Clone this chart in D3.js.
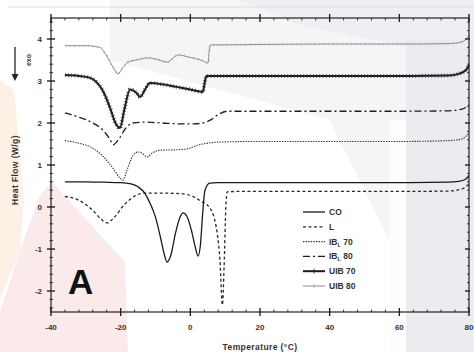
<!DOCTYPE html>
<html>
<head>
<meta charset="utf-8">
<script src="https://cdn.jsdelivr.net/npm/d3@7"></script>
<style>
  html, body { margin: 0; padding: 0; background: #fff; }
  svg { display: block; }
  text { font-family: "Liberation Sans", Arial, sans-serif; }
</style>
</head>
<body>
<svg id="chart" width="474" height="352"></svg>
<script>
// DSC heating thermograms, heat flow (W/g) vs temperature (°C)
const xTicks = [-40, -20, 0, 20, 40, 60, 80];
const yTicks = [-2, -1, 0, 1, 2, 3, 4];

const coT = [-36, -30, -25, -20, -17, -15, -13, -11.5, -10, -8.5, -7.5, -6.7, -5.6, -4.2, -3, -2.1, -1, 0.3, 1.4, 2.2, 2.9, 3.5, 4.2, 5.6, 8, 20, 40, 60, 74, 77, 79, 80];
const coV = [0.60, 0.60, 0.59, 0.58, 0.55, 0.48, 0.32, 0.08, -0.24, -0.75, -1.12, -1.31, -1.15, -0.6, -0.25, -0.14, -0.22, -0.55, -0.95, -1.17, -0.9, -0.2, 0.40, 0.57, 0.58, 0.58, 0.58, 0.58, 0.59, 0.61, 0.66, 0.75];

const lT = [-36, -32, -28, -25.5, -23.9, -22, -19, -16, -13, -8, -3, 1, 3, 5.6, 7.7, 8.5, 9.2, 9.7, 10.2, 10.6, 13, 20, 40, 60, 74, 78, 80];
const lV = [0.25, 0.16, -0.08, -0.30, -0.38, -0.26, 0.05, 0.26, 0.33, 0.33, 0.32, 0.24, 0.14, -0.02, -0.62, -1.26, -2.33, -1.4, 0.0, 0.36, 0.37, 0.37, 0.37, 0.37, 0.38, 0.43, 0.55];

const ibl70T = [-36, -32, -28, -25, -22, -20.3, -19.3, -18.3, -16.5, -15, -13.8, -12.4, -11, -9, -5, -1, 2, 5, 10, 20, 40, 60, 74, 78, 80];
const ibl70V = [1.58, 1.52, 1.40, 1.20, 0.90, 0.70, 0.64, 0.85, 1.22, 1.31, 1.28, 1.19, 1.28, 1.35, 1.36, 1.38, 1.47, 1.52, 1.55, 1.56, 1.56, 1.56, 1.58, 1.62, 1.76];

const ibl80T = [-36, -32, -28, -25, -23, -22.2, -20.5, -18.5, -16.5, -13, -8, -3, 1, 3.6, 6, 8, 10.5, 14, 20, 40, 60, 74, 78, 80];
const ibl80V = [2.24, 2.14, 2.00, 1.82, 1.60, 1.48, 1.62, 1.88, 2.00, 2.02, 2.00, 1.98, 1.98, 2.00, 2.08, 2.20, 2.28, 2.28, 2.28, 2.28, 2.28, 2.29, 2.33, 2.43];

const uib70T = [-36, -32, -29, -27, -25, -23, -21.5, -20.2, -19, -17.3, -15.5, -14.4, -13, -11.6, -8, -4, 0, 3.6, 4.1, 4.6, 8, 20, 40, 60, 74, 77, 79, 80];
const uib70V = [3.14, 3.12, 3.08, 2.98, 2.75, 2.35, 2.00, 1.88, 2.30, 2.80, 2.72, 2.62, 2.80, 2.95, 2.92, 2.86, 2.80, 2.74, 2.95, 3.12, 3.12, 3.12, 3.12, 3.12, 3.13, 3.17, 3.25, 3.38];

const uib80T = [-36, -30, -26, -24, -22, -20.8, -19.5, -17.9, -15.5, -12, -9, -6.7, -3.5, 0, 3, 5.1, 5.4, 5.8, 10, 20, 40, 60, 74, 78, 80];
const uib80V = [3.84, 3.84, 3.80, 3.60, 3.30, 3.17, 3.30, 3.45, 3.50, 3.55, 3.50, 3.45, 3.62, 3.56, 3.50, 3.43, 3.70, 3.86, 3.86, 3.87, 3.88, 3.88, 3.89, 3.93, 4.08];

const seriesNames = ["CO", "L", "IB_L 70", "IB_L 80", "UIB 70", "UIB 80"];

const svg = d3.select("#chart");

// faint coloured wash behind the plot
const bg = svg.append("g");
bg.append("polygon").attr("points", "110,0 474,0 474,352 389,352 389,240 330,120 110,60").attr("fill", "#f5f5f8");
bg.append("polygon").attr("points", "240,0 474,0 474,60 300,25").attr("fill", "#efeff3");
bg.append("rect").attr("x", 389).attr("y", 120).attr("width", 17).attr("height", 232).attr("fill", "#fdfdfe");
bg.append("rect").attr("x", 406).attr("y", 40).attr("width", 68).attr("height", 312).attr("fill", "#ebebf0");
bg.append("polygon").attr("points", "52,182 125,262 128,352 0,352 0,312 22,245 40,195").attr("fill", "#faeaea");
bg.append("polygon").attr("points", "0,80 14,90 24,200 20,250 0,300").attr("fill", "#fdf0e4");
svg.append("line").attr("x1", 8).attr("x2", 474).attr("y1", 7).attr("y2", 7)
  .attr("stroke", "#dedede").attr("stroke-width", 1);

const x = d3.scaleLinear().domain([-40, 80]).range([51, 469]);
const y = d3.scaleLinear().domain([-2.5, 4.5]).range([312, 18]);

const line = d3.line()
  .x(d => x(d[0])).y(d => y(d[1]))
  .curve(d3.curveMonotoneX);

const zip = (t, v) => t.map((d, i) => [d, v[i]]);

const plot = svg.append("g");

function drawSeries(t, v, style) {
  const p = plot.append("path")
    .datum(zip(t, v))
    .attr("fill", "none")
    .attr("stroke", style.color)
    .attr("stroke-width", style.width)
    .attr("stroke-linejoin", "round")
    .attr("d", line);
  if (style.dash) p.attr("stroke-dasharray", style.dash);
  if (style.tick) {
    plot.append("path")
      .datum(zip(t, v))
      .attr("fill", "none")
      .attr("stroke", style.tick.color)
      .attr("stroke-width", style.tick.size)
      .attr("stroke-dasharray", style.tick.dash)
      .attr("d", line);
  }
}

const styles = {
  "CO": { color: "#1a1a1a", width: 1.3 },
  "L": { color: "#2a2a2a", width: 1.3, dash: "3,2.5" },
  "IB_L 70": { color: "#333", width: 1.1, dash: "1.4,1.2" },
  "IB_L 80": { color: "#1e1e1e", width: 1.3, dash: "7,3,2,3" },
  "UIB 70": { color: "#1a1a1a", width: 2, tick: { color: "#333", size: 4, dash: "0.7,2.5" } },
  "UIB 80": { color: "#8d8d8d", width: 1, tick: { color: "#a5a5a5", size: 2.5, dash: "0.6,4" } }
};

drawSeries(uib80T, uib80V, styles["UIB 80"]);
drawSeries(ibl70T, ibl70V, styles["IB_L 70"]);
drawSeries(ibl80T, ibl80V, styles["IB_L 80"]);
drawSeries(lT, lV, styles["L"]);
drawSeries(coT, coV, styles["CO"]);
drawSeries(uib70T, uib70V, styles["UIB 70"]);

// frame and ticks
const axisColor = "#222";
const ax = svg.append("g");
ax.append("rect").attr("x", x(-40)).attr("y", y(4.5))
  .attr("width", x(80) - x(-40)).attr("height", y(-2.5) - y(4.5))
  .attr("fill", "none").attr("stroke", axisColor).attr("stroke-width", 1.2);

const xMinor = d3.range(-40, 80.01, 4).filter(v => !xTicks.includes(v));
const yMinor = d3.range(-2.4, 4.41, 0.2).map(v => +v.toFixed(1)).filter(v => !yTicks.includes(v));

function xTickMarks(vals, yy, up, down, sw) {
  ax.selectAll(null).data(vals).enter().append("line")
    .attr("x1", d => x(d)).attr("x2", d => x(d))
    .attr("y1", yy - up).attr("y2", yy + down)
    .attr("stroke", axisColor).attr("stroke-width", sw);
}
function yTickMarks(vals, xx, left, right, sw) {
  ax.selectAll(null).data(vals).enter().append("line")
    .attr("y1", d => y(d)).attr("y2", d => y(d))
    .attr("x1", xx - left).attr("x2", xx + right)
    .attr("stroke", axisColor).attr("stroke-width", sw);
}
xTickMarks(xTicks, y(-2.5), 4, 4, 1.4);
xTickMarks(xMinor, y(-2.5), 2.5, 0, 0.9);
xTickMarks(xTicks, y(4.5), 4, 4, 1.4);
xTickMarks(xMinor, y(4.5), 0, 2.5, 0.9);
yTickMarks(yTicks, x(-40), 4, 4, 1.4);
yTickMarks(yMinor, x(-40), 1.5, 2, 0.9);
yTickMarks(yTicks, x(80), 4, 1, 1.4);
yTickMarks(yMinor, x(80), 2, 0, 0.9);

// tick labels
ax.selectAll(null).data(xTicks).enter().append("text")
  .attr("x", d => x(d)).attr("y", y(-2.5) + 18)
  .attr("text-anchor", "middle")
  .attr("font-size", 8).attr("font-weight", "bold").attr("fill", "#333")
  .text(d => d);
ax.selectAll(null).data(yTicks).enter().append("text")
  .attr("x", x(-40) - 9).attr("y", d => y(d) + 3)
  .attr("text-anchor", "end")
  .attr("font-size", 8).attr("font-weight", "bold").attr("fill", "#333")
  .text(d => d);

// axis titles
svg.append("text")
  .attr("x", 260).attr("y", 350)
  .attr("text-anchor", "middle")
  .attr("font-size", 8.5).attr("font-weight", "bold").attr("fill", "#333")
  .attr("letter-spacing", 0.4)
  .text("Temperature (°C)");
svg.append("text")
  .attr("transform", "translate(18,170) rotate(-90)")
  .attr("text-anchor", "middle")
  .attr("font-size", 8.5).attr("font-weight", "bold").attr("fill", "#333")
  .attr("letter-spacing", 0.4)
  .text("Heat Flow (W/g)");

// exo direction marker
svg.append("line").attr("x1", 15).attr("x2", 15).attr("y1", 47).attr("y2", 78)
  .attr("stroke", "#222").attr("stroke-width", 1.3);
svg.append("path").attr("d", "M11.5,74 L15,81 L18.5,74 Z").attr("fill", "#222");
svg.append("text")
  .attr("transform", "translate(31,60) rotate(-90)")
  .attr("text-anchor", "middle")
  .attr("font-size", 7).attr("font-weight", "bold").attr("fill", "#333")
  .text("exo");

// panel letter
svg.append("text")
  .attr("x", 68).attr("y", 294)
  .attr("font-size", 35).attr("font-weight", "bold").attr("fill", "#111")
  .text("A");

// legend
const leg = svg.append("g");
const legY0 = 212, legStep = 14.8, legX1 = 303, legX2 = 325;
seriesNames.forEach((name, i) => {
  const st = styles[name];
  const yy = legY0 + i * legStep;
  const l = leg.append("line")
    .attr("x1", legX1).attr("x2", legX2).attr("y1", yy).attr("y2", yy)
    .attr("stroke", st.color).attr("stroke-width", st.width);
  if (st.dash) l.attr("stroke-dasharray", st.dash);
  if (st.tick) {
    leg.append("line")
      .attr("x1", (legX1 + legX2) / 2).attr("x2", (legX1 + legX2) / 2)
      .attr("y1", yy - st.tick.size / 2 - 0.5).attr("y2", yy + st.tick.size / 2 + 0.5)
      .attr("stroke", st.tick.color).attr("stroke-width", 0.9);
  }
  const t = leg.append("text")
    .attr("x", legX2 + 4).attr("y", yy + 3)
    .attr("font-size", 8.5).attr("font-weight", "bold").attr("fill", "#333");
  if (name.startsWith("IB_L")) {
    t.append("tspan").text("IB");
    t.append("tspan").attr("font-size", 5.5).attr("dy", 2).text("L");
    t.append("tspan").attr("dy", -2).text(" " + name.split(" ")[1]);
  } else {
    t.text(name);
  }
});
</script>
</body>
</html>
